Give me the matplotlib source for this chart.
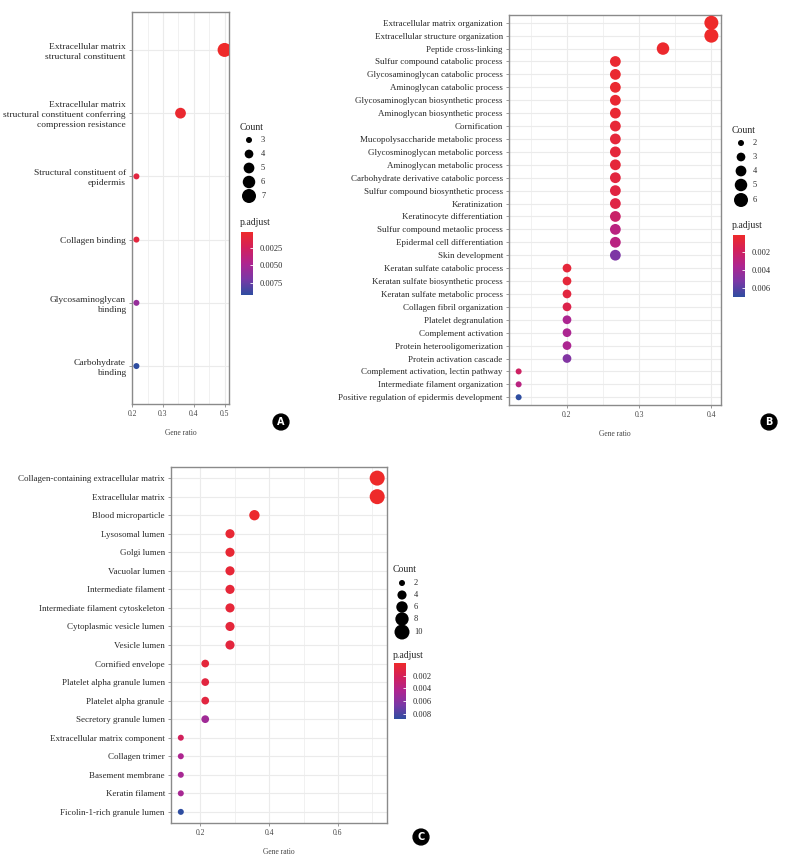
import numpy as np
import matplotlib
matplotlib.use("Agg")
import matplotlib.pyplot as plt
from matplotlib.colors import LinearSegmentedColormap, Normalize
from matplotlib.cm import ScalarMappable

plt.rcParams["font.family"] = ["Liberation Serif", "DejaVu Serif"]

# ── Panel A: GO molecular function ────────────────────────────────────────────
a_terms = ["Extracellular matrix\nstructural constituent",
           "Extracellular matrix\nstructural constituent conferring\ncompression resistance",
           "Structural constituent of\nepidermis",
           "Collagen binding",
           "Glycosaminoglycan\nbinding",
           "Carbohydrate\nbinding"]
a_ratio = [0.500, 0.357, 0.214, 0.214, 0.214, 0.214]
a_count = [7, 5, 3, 3, 3, 3]
a_padj = [0.0002, 0.0005, 0.0012, 0.0011, 0.0058, 0.0093]

# ── Panel B: GO biological process ────────────────────────────────────────────
b_terms = ["Extracellular matrix organization",
           "Extracellular structure organization",
           "Peptide cross-linking",
           "Sulfur compound catabolic process",
           "Glycosaminoglycan catabolic process",
           "Aminoglycan catabolic process",
           "Glycosaminoglycan biosynthetic process",
           "Aminoglycan biosynthetic process",
           "Cornification",
           "Mucopolysaccharide metabolic process",
           "Glycosminoglycan metabolic porcess",
           "Aminoglycan metabolic process",
           "Carbohydrate derivative catabolic porcess",
           "Sulfur compound biosynthetic process",
           "Keratinization",
           "Keratinocyte differentiation",
           "Sulfur compound metaolic process",
           "Epidermal cell differentiation",
           "Skin development",
           "Keratan sulfate catabolic process",
           "Keratan sulfate biosynthetic process",
           "Keratan sulfate metabolic process",
           "Collagen fibril organization",
           "Platelet degranulation",
           "Complement activation",
           "Protein heterooligomerization",
           "Protein activation cascade",
           "Complement activation, lectin pathway",
           "Intermediate filament organization",
           "Positive regulation of epidermis development"]
b_ratio = [0.400, 0.400, 0.333] + [0.267] * 16 + [0.200] * 8 + [0.133] * 3
b_count = [6, 6, 5] + [4] * 16 + [3] * 8 + [2] * 3
b_padj = [0.00005, 0.00005, 0.0002,
          0.0003, 0.0003, 0.0003, 0.0004, 0.0004, 0.0005, 0.0006, 0.0006,
          0.0006, 0.0008, 0.0009, 0.0010, 0.0022, 0.0030, 0.0030, 0.0052,
          0.0006, 0.0006, 0.0008, 0.0012, 0.0036, 0.0036, 0.0036, 0.0050,
          0.0020, 0.0030, 0.0070]

# ── Panel C: GO cellular component ────────────────────────────────────────────
c_terms = ["Collagen-containing extracellular matrix",
           "Extracellular matrix",
           "Blood microparticle",
           "Lysosomal lumen",
           "Golgi lumen",
           "Vacuolar lumen",
           "Intermediate filament",
           "Intermediate filament cytoskeleton",
           "Cytoplasmic vesicle lumen",
           "Vesicle lumen",
           "Cornified envelope",
           "Platelet alpha granule lumen",
           "Platelet alpha granule",
           "Secretory granule lumen",
           "Extracellular matrix component",
           "Collagen trimer",
           "Basement membrane",
           "Keratin filament",
           "Ficolin-1-rich granule lumen"]
c_ratio = [0.714, 0.714, 0.357] + [0.286] * 7 + [0.214] * 4 + [0.143] * 5
c_count = [10, 10, 5] + [4] * 7 + [3] * 4 + [2] * 5
c_padj = [0.00002, 0.00002, 0.0002,
          0.0005, 0.0005, 0.0006, 0.0007, 0.0007, 0.0008, 0.0009,
          0.0008, 0.0010, 0.0010, 0.0050,
          0.0022, 0.0044, 0.0047, 0.0047, 0.0088]

W, H = 785, 857
fig = plt.figure(figsize=(W / 100, H / 100), dpi=100)

cmap = LinearSegmentedColormap.from_list(
    "padj", ["#EE2A2A", "#D2205C", "#AE2590", "#7A38A6", "#2E4DA0"])

GRID = "#EBEBEB"
BORDER = "#8A8A8A"
TXT = "#2A2A2A"


def px_axes(l, t, r, b):
    return fig.add_axes([l / W, 1 - b / H, (r - l) / W, (b - t) / H])


def size_fn(counts, lo, hi, dmin, dmax):
    # area grows linearly with count (like ggplot scale_size)
    c = np.asarray(counts, dtype=float)
    d_px = np.sqrt(dmin ** 2 + (c - lo) / (hi - lo) * (dmax ** 2 - dmin ** 2))
    return (d_px * 0.72) ** 2


def dotplot(box, terms, ratio, count, padj, dsize, xticks, xminor,
            fs, linesp=1.0):
    ax = px_axes(*box)
    n = len(terms)
    y = np.arange(n)
    norm = Normalize(min(padj), max(padj))
    ax.scatter(ratio, y, s=size_fn(count, min(count), max(count), *dsize),
               c=padj, cmap=cmap, norm=norm, edgecolors="none", zorder=3)
    lo, hi = min(ratio), max(ratio)
    pad = 0.05 * (hi - lo)
    ax.set_xlim(lo - pad, hi + pad)
    ax.set_ylim(n - 0.4, -0.6)
    ax.set_yticks(y)
    ax.set_yticklabels(terms, fontsize=fs, color=TXT, linespacing=linesp)
    ax.set_xticks(xticks)
    ax.set_xticklabels([f"{t:g}" for t in xticks], fontsize=5.5, color="#444444")
    ax.set_xticks(xminor, minor=True)
    ax.grid(True, which="major", color=GRID, lw=0.8, zorder=0)
    ax.grid(True, which="minor", axis="x", color=GRID, lw=0.5, zorder=0)
    ax.set_axisbelow(True)
    ax.tick_params(axis="both", which="major", length=2.5, width=0.6,
                   color="#888888", pad=2)
    ax.tick_params(axis="x", which="minor", length=0)
    for sp in ax.spines.values():
        sp.set_color(BORDER)
        sp.set_linewidth(1.0)
    ax.set_xlabel("Gene ratio", fontsize=5.5, color="#444444", labelpad=8)
    return ax, norm


def legends(x0, count_y, counts_shown, count, dsize, padj_y, cbar_box,
            norm, cticks, ctick_fmt):
    ov = fig.add_axes([0, 0, 1, 1], facecolor="none")
    ov.set_xlim(0, W)
    ov.set_ylim(H, 0)
    ov.axis("off")
    ov.text(x0, count_y[0] - 13, "Count", fontsize=7, color=TXT,
            ha="left", va="center")
    ov.scatter([x0 + 9] * len(counts_shown), count_y,
               s=size_fn(counts_shown, min(count), max(count), *dsize),
               c="black", edgecolors="none")
    for yy, lab in zip(count_y, counts_shown):
        ov.text(x0 + 21, yy, str(lab), fontsize=6, color=TXT, ha="left",
                va="center")
    ov.text(x0, padj_y, "p.adjust", fontsize=7, color=TXT, ha="left",
            va="center")
    cax = px_axes(*cbar_box)
    cb = fig.colorbar(ScalarMappable(norm=norm, cmap=cmap), cax=cax)
    cb.outline.set_visible(False)
    cax.invert_yaxis()
    cb.set_ticks(cticks)
    cb.set_ticklabels([ctick_fmt.format(t) for t in cticks])
    cax.tick_params(length=2.5, width=0.6, color="white", direction="in",
                    labelsize=6, labelcolor=TXT, pad=5)


def badge(x, y, letter):
    fig.text(x / W, 1 - y / H, letter, fontsize=7, fontweight="bold",
             color="white", ha="center", va="center", family="DejaVu Sans",
             bbox=dict(boxstyle="circle,pad=0.3", fc="black", ec="black"))


# Panel A
axA, normA = dotplot((132, 12, 229, 404), a_terms, a_ratio, a_count, a_padj,
                     (6, 14), [0.2, 0.3, 0.4, 0.5], [0.25, 0.35, 0.45], 6.8,
                     linesp=1.35)
legends(240, [140, 154, 168, 182, 196], [3, 4, 5, 6, 7], a_count, (6, 14),
        222, (241, 232, 253, 295), normA, [0.0025, 0.0050, 0.0075], "{:.4f}")
badge(281, 422, "A")

# Panel B
axB, normB = dotplot((509, 15, 721, 405), b_terms, b_ratio, b_count, b_padj,
                     (6, 14), [0.2, 0.3, 0.4], [0.15, 0.25, 0.35], 6.5)
legends(732, [143, 157, 171, 185, 200], [2, 3, 4, 5, 6], b_count, (6, 14),
        225, (733, 235, 745, 297), normB, [0.002, 0.004, 0.006], "{:.3f}")
badge(769, 422, "B")

# Panel C
axC, normC = dotplot((171, 467, 387, 823), c_terms, c_ratio, c_count, c_padj,
                     (6, 15), [0.2, 0.4, 0.6], [0.3, 0.5, 0.7], 6.5)
legends(393, [583, 595, 607, 619, 632], [2, 4, 6, 8, 10], c_count, (6, 15),
        655, (394, 663, 406, 719), normC, [0.002, 0.004, 0.006, 0.008],
        "{:.3f}")
badge(421, 837, "C")

plt.savefig("out.png", dpi=100)
plt.close()
print("saved out.png")
